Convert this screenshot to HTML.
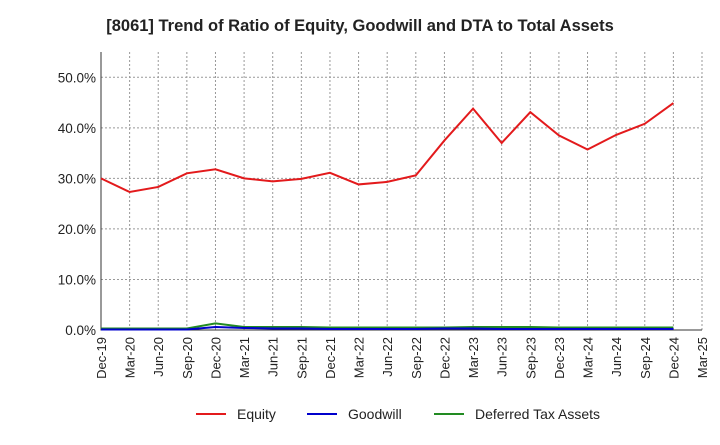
<!DOCTYPE html>
<html><head><meta charset="utf-8"><style>
body{margin:0;background:#fff;font-family:"Liberation Sans",sans-serif}
</style></head><body>
<svg id="c" width="720" height="440" xmlns="http://www.w3.org/2000/svg">
<text x="360" y="31" text-anchor="middle" font-size="16.5" font-weight="bold" fill="#222">[8061]  Trend of Ratio of Equity, Goodwill and DTA to Total Assets</text>
<g id="grid"></g><g id="axes"></g><g id="series"></g>
<g>
<line x1="196" y1="414" x2="226" y2="414" stroke="#e31a1c" stroke-width="2"/><text x="237" y="419" font-size="14" fill="#222">Equity</text>
<line x1="307" y1="414" x2="337" y2="414" stroke="#0000cc" stroke-width="2"/><text x="348" y="419" font-size="14" fill="#222">Goodwill</text>
<line x1="434" y1="414" x2="464" y2="414" stroke="#228b22" stroke-width="2"/><text x="475" y="419" font-size="14" fill="#222">Deferred Tax Assets</text>
</g>
</svg>
<script>
const categories=["Dec-19","Mar-20","Jun-20","Sep-20","Dec-20","Mar-21","Jun-21","Sep-21","Dec-21","Mar-22","Jun-22","Sep-22","Dec-22","Mar-23","Jun-23","Sep-23","Dec-23","Mar-24","Jun-24","Sep-24","Dec-24","Mar-25"];
const equity=[30.0,27.3,28.3,31.0,31.8,30.0,29.4,29.9,31.1,28.8,29.3,30.6,37.5,43.8,37.0,43.1,38.5,35.7,38.6,40.8,44.9];
const goodwill=[0.1,0.1,0.1,0.1,0.6,0.4,0.3,0.3,0.2,0.2,0.2,0.2,0.3,0.3,0.2,0.2,0.2,0.2,0.2,0.2,0.2];
const dta=[0.3,0.3,0.3,0.3,1.3,0.6,0.6,0.6,0.5,0.5,0.5,0.5,0.5,0.6,0.6,0.6,0.5,0.5,0.5,0.5,0.5];
const yTicks=[0,10,20,30,40,50];
const L=101,R=702,T=52,B=330,YMAX=55;
const ns="http://www.w3.org/2000/svg";
const xs=i=>L+i*(R-L)/(categories.length-1);
const ys=v=>B-v/YMAX*(B-T);
function mk(p,t,a){const e=document.createElementNS(ns,t);for(const k in a)e.setAttribute(k,a[k]);document.getElementById(p).appendChild(e);return e;}
categories.forEach((c,i)=>{
 const g=mk('grid','line',{x1:xs(i),x2:xs(i),y1:T,y2:B,stroke:'#999','stroke-dasharray':'2,2'});
 
 
 const t=mk('axes','text',{x:0,y:0,'font-size':13,fill:'#222','text-anchor':'end',transform:`translate(${xs(i)+5},${B+7}) rotate(-90)`});
 t.textContent=c;
 
 
});
yTicks.forEach(v=>{
 const g=mk('grid','line',{x1:L,x2:R,y1:ys(v),y2:ys(v),stroke:'#999','stroke-dasharray':'2,2'});
 
 
 const t=mk('axes','text',{x:L-5,y:ys(v)+5,'font-size':13.5,fill:'#222','text-anchor':'end'});
 t.textContent=v.toFixed(1)+'%';
 
 
});
const ax=mk('axes','polyline',{points:`${L},${T} ${L},${B} ${R},${B}`,fill:'none',stroke:'#333','stroke-width':1});


[[dta,'#228b22','dta-line'],[goodwill,'#0000cc','goodwill-line'],[equity,'#e31a1c','equity-line']].forEach(([d,col,n])=>{
 const p=mk('series','polyline',{points:d.map((v,i)=>xs(i)+','+ys(v)).join(' '),fill:'none',stroke:col,'stroke-width':2});
 
 
});
</script>
</body></html>
